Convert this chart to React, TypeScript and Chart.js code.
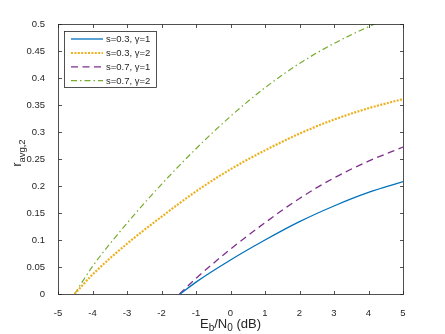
import React, { useEffect, useRef } from "react";
import { Chart, registerables } from "chart.js";

Chart.register(...registerables);

// ---- data ----
const X_A = [-1.46, -1, 0, 1, 2, 3, 4, 5];
const S03_G1 = [0, 0.022, 0.063, 0.1, 0.134, 0.163, 0.188, 0.208];
const X_B = [-4.52, -4, -3, -2, -1, 0, 1, 2, 3, 4, 5];
const S03_G2 = [0, 0.036, 0.093, 0.143, 0.19, 0.231, 0.266, 0.297, 0.323, 0.344, 0.361];
const X_C = [-1.48, -1, 0, 1, 2, 3, 4, 5];
const S07_G1 = [0, 0.029, 0.083, 0.132, 0.177, 0.215, 0.246, 0.272];
const X_D = [-4.52, -4, -3, -2, -1, 0, 1, 2, 3, 4, 4.24];
const S07_G2 = [0, 0.051, 0.131, 0.203, 0.269, 0.329, 0.382, 0.427, 0.464, 0.495, 0.502];

const LABELS = ["s=0.3, \u03b3=1", "s=0.3, \u03b3=2", "s=0.7, \u03b3=1", "s=0.7, \u03b3=2"];
const X_MIN = -5, X_MAX = 5, X_STEP = 1;
const Y_MIN = 0, Y_MAX = 0.5, Y_STEP = 0.05;
const X_TITLE = [
  { t: "E", sub: false },
  { t: "b", sub: true },
  { t: "/N", sub: false },
  { t: "0", sub: true },
  { t: " (dB)", sub: false },
];
const Y_TITLE = [
  { t: "r", sub: false },
  { t: "avg,2", sub: true },
];

const FONT = "'Liberation Sans Narrow', 'Arial Narrow', 'Liberation Sans', Arial, sans-serif";
const AXIS_COLOR = "#262626";

function pts(xs: number[], ys: number[]) {
  return xs.map((x, i) => ({ x, y: ys[i] }));
}

type Part = { t: string; sub: boolean };

function richWidth(ctx: CanvasRenderingContext2D, parts: Part[], size: number, subSize: number) {
  let w = 0;
  for (const p of parts) {
    ctx.font = `${p.sub ? subSize : size}px ${FONT}`;
    w += ctx.measureText(p.t).width;
  }
  return w;
}

function drawRich(ctx: CanvasRenderingContext2D, parts: Part[], cx: number, baseline: number, size: number, subSize: number, subShift: number) {
  const w = richWidth(ctx, parts, size, subSize);
  let x = cx - w / 2;
  ctx.textAlign = "left";
  ctx.textBaseline = "alphabetic";
  for (const p of parts) {
    ctx.font = `${p.sub ? subSize : size}px ${FONT}`;
    ctx.fillText(p.t, x, baseline + (p.sub ? subShift : 0));
    x += ctx.measureText(p.t).width;
  }
}

const decorPlugin = {
  id: "decor",
  afterDraw(chart: any) {
    const { ctx, chartArea: a, scales } = chart;
    const xs = scales.x;
    const ys = scales.y;
    ctx.save();
    // frame
    ctx.strokeStyle = AXIS_COLOR;
    ctx.lineWidth = 0.8;
    const L = Math.round(a.left) + 0.5, R = Math.round(a.right) + 0.5;
    const T = Math.round(a.top) + 0.5, B = Math.round(a.bottom) + 0.5;
    ctx.strokeRect(L, T, R - L, B - T);
    // inward ticks
    const tl = 3.5;
    ctx.beginPath();
    for (const tk of xs.ticks) {
      const px = Math.round(xs.getPixelForValue(tk.value)) + 0.5;
      ctx.moveTo(px, B); ctx.lineTo(px, B - tl);
      ctx.moveTo(px, T); ctx.lineTo(px, T + tl);
    }
    for (const tk of ys.ticks) {
      const py = Math.round(ys.getPixelForValue(tk.value)) + 0.5;
      ctx.moveTo(L, py); ctx.lineTo(L + tl, py);
      ctx.moveTo(R, py); ctx.lineTo(R - tl, py);
    }
    ctx.stroke();

    // x title
    ctx.fillStyle = AXIS_COLOR;
    drawRich(ctx, X_TITLE, (a.left + a.right) / 2, 328, 13, 10, 3);
    // y title (rotated)
    ctx.save();
    ctx.translate(21, (a.top + a.bottom) / 2 - 6);
    ctx.rotate(-Math.PI / 2);
    drawRich(ctx, Y_TITLE, 0, 0, 12, 9.5, 3.5);
    ctx.restore();

    // legend
    const bx = 64.5, by = 31.5, bw = 92, bh = 56;
    ctx.fillStyle = "#ffffff";
    ctx.fillRect(bx, by, bw, bh);
    ctx.strokeStyle = AXIS_COLOR;
    ctx.lineWidth = 0.8;
    ctx.setLineDash([]);
    ctx.strokeRect(bx, by, bw, bh);
    const rows = [39, 53, 66.8, 80.7];
    chart.data.datasets.forEach((ds: any, i: number) => {
      const y = rows[i];
      ctx.save();
      ctx.strokeStyle = ds.borderColor;
      ctx.lineWidth = ds.borderWidth;
      ctx.setLineDash(ds.borderDash || []);
      ctx.beginPath();
      ctx.moveTo(71, y);
      ctx.lineTo(103, y);
      ctx.stroke();
      ctx.restore();
      ctx.fillStyle = AXIS_COLOR;
      ctx.font = `9.5px ${FONT}`;
      ctx.textAlign = "left";
      ctx.textBaseline = "middle";
      ctx.fillText(ds.label, 106, y + 0.5);
    });
    ctx.restore();
  },
};

export default function App() {
  const ref = useRef<HTMLCanvasElement | null>(null);
  useEffect(() => {
    document.body.style.margin = "0";
    const canvas = ref.current!;
    const common = { pointRadius: 0, fill: false, cubicInterpolationMode: "monotone" as const };
    const chart = new Chart(canvas, {
      type: "line",
      data: {
        datasets: [
          { ...common, label: LABELS[0], data: pts(X_A, S03_G1), borderColor: "#0072BD", borderWidth: 1.3 },
          { ...common, label: LABELS[1], data: pts(X_B, S03_G2), borderColor: "#EDB120", borderWidth: 2.2, borderDash: [2, 1.4] },
          { ...common, label: LABELS[2], data: pts(X_C, S07_G1), borderColor: "#7E2F8E", borderWidth: 1.3, borderDash: [7, 4.5] },
          { ...common, label: LABELS[3], data: pts(X_D, S07_G2), borderColor: "#77AC30", borderWidth: 1.2, borderDash: [6, 3, 1.5, 3] },
        ],
      },
      options: {
        animation: false,
        responsive: false,
        events: [],
        layout: { padding: { left: 0, right: 42, top: 24, bottom: 0 } },
        plugins: { legend: { display: false }, tooltip: { enabled: false } },
        scales: {
          x: {
            type: "linear",
            min: X_MIN,
            max: X_MAX,
            afterFit: (s: any) => { s.height = 40; },
            grid: { display: false },
            border: { display: false },
            ticks: {
              stepSize: X_STEP,
              padding: 6,
              color: AXIS_COLOR,
              font: { family: FONT, size: 9.5 },
              maxRotation: 0,
              callback: (v: any) => String(v),
            },
          },
          y: {
            type: "linear",
            min: Y_MIN,
            max: Y_MAX,
            afterFit: (s: any) => { s.width = 58; },
            grid: { display: false },
            border: { display: false },
            ticks: {
              stepSize: Y_STEP,
              padding: 5,
              color: AXIS_COLOR,
              font: { family: FONT, size: 9.5 },
              callback: (v: any) => String(+Number(v).toFixed(2)),
            },
          },
        },
      },
      plugins: [decorPlugin],
    });
    return () => chart.destroy();
  }, []);
  return (
    <div style={{ width: 445, height: 334, background: "#fff" }}>
      <canvas ref={ref} width={445} height={334} style={{ width: 445, height: 334, display: "block" }} />
    </div>
  );
}
